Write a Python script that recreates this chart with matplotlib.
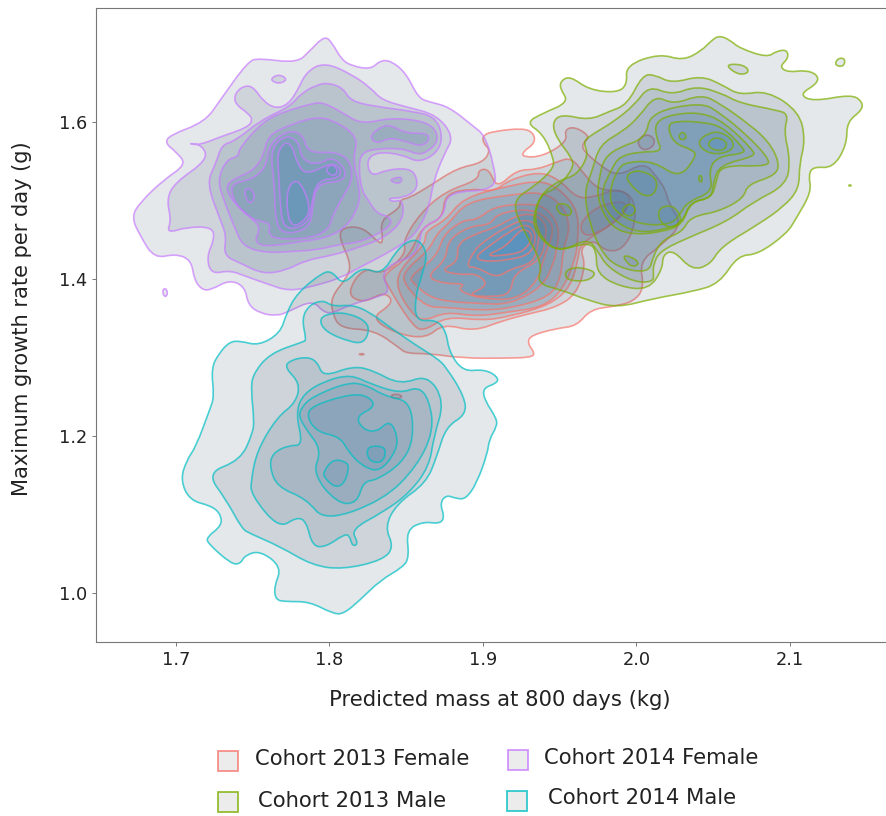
# density contours for the four cohorts

import matplotlib
matplotlib.use("Agg")
import matplotlib.pyplot as plt
from matplotlib.patches import PathPatch, Rectangle
from matplotlib.path import Path

# each cohort: list of levels, each level a list of closed rings (mass, growth)
female_2014 = [
    [
        [(1.797,1.710),(1.802,1.700),(1.808,1.679),(1.815,1.671),(1.827,1.667),(1.833,1.678),(1.840,1.678),(1.850,1.662),(1.858,1.630),(1.866,1.625),(1.878,1.619),(1.894,1.594),(1.901,1.583),(1.907,1.547),(1.909,1.513),(1.876,1.511),(1.875,1.479),(1.860,1.466),(1.859,1.445),(1.854,1.428),(1.841,1.420),(1.834,1.405),(1.839,1.386),(1.835,1.379),(1.813,1.367),(1.802,1.356),(1.796,1.358),(1.789,1.373),(1.773,1.358),(1.766,1.353),(1.755,1.356),(1.747,1.367),(1.745,1.390),(1.735,1.399),(1.723,1.386),(1.717,1.386),(1.712,1.399),(1.710,1.424),(1.700,1.432),(1.686,1.426),(1.677,1.454),(1.671,1.479),(1.677,1.498),(1.692,1.526),(1.707,1.546),(1.700,1.562),(1.693,1.573),(1.696,1.583),(1.719,1.600),(1.729,1.628),(1.747,1.677),(1.754,1.681),(1.779,1.675),(1.787,1.690)],
        [(1.691,1.384),(1.693,1.389),(1.695,1.382),(1.693,1.376)],
    ],
    [
        [(1.797,1.676),(1.815,1.660),(1.827,1.643),(1.834,1.628),(1.850,1.619),(1.870,1.609),(1.881,1.581),(1.875,1.560),(1.868,1.526),(1.865,1.492),(1.859,1.466),(1.852,1.450),(1.837,1.432),(1.821,1.416),(1.807,1.401),(1.792,1.392),(1.774,1.384),(1.759,1.394),(1.746,1.403),(1.735,1.411),(1.723,1.406),(1.720,1.428),(1.725,1.450),(1.724,1.466),(1.707,1.466),(1.694,1.458),(1.697,1.475),(1.694,1.501),(1.699,1.522),(1.721,1.552),(1.717,1.571),(1.707,1.573),(1.715,1.570),(1.729,1.581),(1.747,1.593),(1.750,1.603),(1.747,1.611),(1.739,1.622),(1.738,1.634),(1.743,1.645),(1.750,1.646),(1.757,1.626),(1.765,1.617),(1.773,1.622),(1.779,1.639),(1.785,1.664)],
        [(1.761,1.654),(1.767,1.661),(1.773,1.654),(1.767,1.648)],
    ],
    [
        [(1.799,1.650),(1.809,1.643),(1.814,1.626),(1.832,1.619),(1.852,1.614),(1.869,1.607),(1.874,1.581),(1.870,1.560),(1.858,1.548),(1.848,1.558),(1.832,1.562),(1.824,1.552),(1.827,1.530),(1.837,1.539),(1.852,1.541),(1.857,1.530),(1.857,1.513),(1.848,1.503),(1.838,1.503),(1.841,1.498),(1.848,1.501),(1.848,1.475),(1.837,1.454),(1.821,1.441),(1.802,1.430),(1.785,1.424),(1.772,1.411),(1.757,1.406),(1.742,1.420),(1.731,1.430),(1.733,1.454),(1.729,1.475),(1.720,1.522),(1.726,1.547),(1.730,1.571),(1.738,1.575),(1.756,1.603),(1.774,1.619),(1.782,1.637),(1.792,1.647)],
    ],
    [
        [(1.788,1.623),(1.796,1.625),(1.809,1.611),(1.821,1.597),(1.839,1.605),(1.859,1.602),(1.869,1.592),(1.871,1.575),(1.864,1.562),(1.858,1.558),(1.848,1.566),(1.832,1.566),(1.821,1.561),(1.819,1.543),(1.821,1.513),(1.825,1.501),(1.831,1.483),(1.840,1.479),(1.840,1.466),(1.821,1.447),(1.807,1.444),(1.792,1.437),(1.776,1.435),(1.759,1.433),(1.744,1.441),(1.739,1.462),(1.732,1.496),(1.727,1.526),(1.733,1.552),(1.741,1.556),(1.741,1.566),(1.758,1.603),(1.774,1.615)],
        [(1.838,1.526),(1.848,1.531),(1.846,1.520)],
    ],
    [
        [(1.790,1.606),(1.802,1.603),(1.819,1.581),(1.815,1.552),(1.820,1.513),(1.819,1.492),(1.811,1.466),(1.798,1.452),(1.776,1.446),(1.759,1.441),(1.751,1.447),(1.755,1.464),(1.751,1.475),(1.738,1.496),(1.732,1.517),(1.738,1.528),(1.750,1.537),(1.757,1.556),(1.760,1.583),(1.774,1.596)],
        [(1.826,1.581),(1.832,1.592),(1.839,1.597),(1.850,1.585),(1.864,1.586),(1.865,1.575),(1.859,1.569),(1.850,1.575),(1.839,1.580),(1.831,1.572)],
    ],
    [
        [(1.774,1.590),(1.783,1.583),(1.786,1.560),(1.805,1.562),(1.814,1.549),(1.815,1.526),(1.809,1.505),(1.802,1.481),(1.800,1.464),(1.789,1.452),(1.766,1.450),(1.760,1.458),(1.762,1.471),(1.750,1.475),(1.740,1.492),(1.736,1.509),(1.737,1.522),(1.750,1.527),(1.759,1.543),(1.761,1.573)],
    ],
    [
        [(1.764,1.571),(1.772,1.583),(1.780,1.575),(1.782,1.552),(1.792,1.545),(1.802,1.556),(1.811,1.539),(1.809,1.524),(1.792,1.522),(1.789,1.492),(1.788,1.471),(1.781,1.460),(1.770,1.458),(1.765,1.471),(1.764,1.526),(1.762,1.552)],
        [(1.744,1.511),(1.748,1.517),(1.752,1.505),(1.748,1.494)],
    ],
    [
        [(1.766,1.560),(1.771,1.575),(1.776,1.569),(1.779,1.547),(1.785,1.532),(1.802,1.549),(1.808,1.539),(1.806,1.528),(1.792,1.526),(1.788,1.492),(1.787,1.475),(1.779,1.464),(1.770,1.466),(1.768,1.492),(1.767,1.534)],
    ],
    [
        [(1.772,1.513),(1.778,1.528),(1.784,1.513),(1.787,1.492),(1.786,1.479),(1.778,1.466),(1.773,1.475)],
        [(1.797,1.539),(1.802,1.547),(1.806,1.537),(1.802,1.530)],
    ],
]

male_2014 = [
    [
        [(1.768,1.331),(1.772,1.356),(1.779,1.382),(1.796,1.409),(1.802,1.409),(1.809,1.392),(1.821,1.416),(1.834,1.405),(1.844,1.437),(1.852,1.449),(1.859,1.449),(1.864,1.431),(1.860,1.403),(1.856,1.378),(1.856,1.346),(1.870,1.348),(1.876,1.333),(1.878,1.307),(1.887,1.282),(1.901,1.285),(1.910,1.275),(1.909,1.267),(1.900,1.261),(1.901,1.246),(1.909,1.222),(1.909,1.212),(1.904,1.195),(1.903,1.178),(1.896,1.140),(1.889,1.120),(1.883,1.120),(1.876,1.125),(1.872,1.114),(1.875,1.097),(1.872,1.088),(1.861,1.091),(1.850,1.080),(1.852,1.046),(1.848,1.033),(1.833,1.016),(1.820,0.991),(1.809,0.973),(1.802,0.974),(1.787,0.989),(1.772,0.989),(1.765,0.991),(1.764,1.008),(1.769,1.033),(1.755,1.054),(1.745,1.048),(1.742,1.037),(1.736,1.037),(1.721,1.063),(1.720,1.071),(1.730,1.086),(1.729,1.101),(1.723,1.111),(1.709,1.118),(1.703,1.144),(1.707,1.169),(1.713,1.186),(1.722,1.233),(1.725,1.250),(1.723,1.286),(1.728,1.305),(1.735,1.320),(1.742,1.321),(1.754,1.315)],
    ],
    [
        [(1.785,1.322),(1.782,1.350),(1.787,1.367),(1.796,1.373),(1.802,1.365),(1.815,1.367),(1.826,1.358),(1.839,1.339),(1.856,1.316),(1.870,1.299),(1.876,1.288),(1.888,1.250),(1.889,1.227),(1.876,1.212),(1.870,1.174),(1.863,1.140),(1.844,1.114),(1.836,1.084),(1.842,1.059),(1.835,1.042),(1.809,1.030),(1.789,1.035),(1.768,1.059),(1.748,1.076),(1.743,1.082),(1.733,1.118),(1.720,1.153),(1.742,1.169),(1.750,1.203),(1.751,1.220),(1.749,1.258),(1.750,1.278),(1.761,1.305),(1.783,1.320)],
    ],
    [
        [(1.771,1.287),(1.774,1.296),(1.785,1.301),(1.792,1.295),(1.796,1.275),(1.815,1.289),(1.828,1.284),(1.846,1.265),(1.864,1.278),(1.875,1.244),(1.868,1.199),(1.865,1.161),(1.852,1.127),(1.835,1.103),(1.814,1.081),(1.819,1.063),(1.815,1.059),(1.813,1.074),(1.809,1.074),(1.798,1.059),(1.789,1.059),(1.785,1.091),(1.779,1.097),(1.767,1.082),(1.749,1.125),(1.749,1.144),(1.753,1.182),(1.766,1.224),(1.778,1.242),(1.781,1.267)],
        [(1.793,1.350),(1.802,1.357),(1.813,1.356),(1.824,1.346),(1.826,1.333),(1.822,1.318),(1.813,1.320),(1.797,1.333)],
    ],
    [
        [(1.783,1.188),(1.773,1.188),(1.763,1.178),(1.761,1.161),(1.766,1.135),(1.785,1.120),(1.797,1.091),(1.835,1.118),(1.857,1.161),(1.868,1.207),(1.865,1.246),(1.858,1.263),(1.846,1.254),(1.826,1.267),(1.814,1.278),(1.798,1.271),(1.783,1.254),(1.778,1.229)],
    ],
    [
        [(1.782,1.237),(1.789,1.250),(1.810,1.267),(1.822,1.267),(1.837,1.250),(1.853,1.244),(1.855,1.195),(1.847,1.165),(1.831,1.144),(1.822,1.142),(1.818,1.114),(1.805,1.114),(1.789,1.152),(1.795,1.182),(1.785,1.208),(1.780,1.225)],
    ],
    [
        [(1.785,1.225),(1.789,1.239),(1.815,1.254),(1.826,1.250),(1.830,1.237),(1.817,1.225),(1.822,1.208),(1.831,1.205),(1.839,1.220),(1.844,1.203),(1.844,1.182),(1.833,1.154),(1.822,1.161),(1.813,1.178),(1.807,1.199),(1.792,1.205)],
        [(1.796,1.154),(1.802,1.170),(1.810,1.168),(1.813,1.161),(1.810,1.140),(1.804,1.134),(1.797,1.146)],
    ],
    [
        [(1.824,1.178),(1.826,1.187),(1.835,1.187),(1.837,1.178),(1.834,1.166),(1.827,1.167)],
    ],
]

female_2013 = [
    [
        [(1.900,1.583),(1.907,1.588),(1.926,1.592),(1.933,1.586),(1.934,1.573),(1.926,1.562),(1.926,1.555),(1.939,1.556),(1.955,1.575),(1.953,1.590),(1.960,1.594),(1.970,1.581),(1.965,1.573),(1.965,1.564),(1.976,1.545),(1.988,1.530),(2.005,1.549),(2.014,1.528),(2.019,1.513),(2.021,1.496),(2.030,1.469),(2.015,1.441),(2.002,1.422),(2.005,1.388),(1.998,1.371),(1.985,1.365),(1.970,1.361),(1.961,1.340),(1.948,1.337),(1.931,1.328),(1.929,1.318),(1.934,1.305),(1.931,1.300),(1.915,1.299),(1.887,1.299),(1.865,1.305),(1.850,1.305),(1.845,1.313),(1.829,1.335),(1.807,1.337),(1.802,1.356),(1.801,1.377),(1.812,1.403),(1.814,1.420),(1.806,1.454),(1.809,1.466),(1.822,1.466),(1.833,1.444),(1.835,1.449),(1.833,1.475),(1.846,1.490),(1.846,1.501),(1.852,1.503),(1.865,1.518),(1.883,1.541),(1.900,1.548),(1.905,1.564),(1.900,1.573)],
        [(1.839,1.251),(1.844,1.254),(1.848,1.250),(1.844,1.247)],
        [(1.819,1.304),(1.821,1.305),(1.823,1.304),(1.821,1.303)],
    ],
    [
        [(1.811,1.381),(1.822,1.415),(1.835,1.405),(1.850,1.432),(1.848,1.449),(1.859,1.483),(1.875,1.511),(1.897,1.526),(1.897,1.539),(1.904,1.540),(1.909,1.515),(1.922,1.539),(1.935,1.539),(1.948,1.549),(1.958,1.555),(1.967,1.530),(1.976,1.513),(1.991,1.513),(1.999,1.500),(1.999,1.466),(1.991,1.437),(1.980,1.435),(1.972,1.450),(1.963,1.439),(1.967,1.418),(1.961,1.381),(1.948,1.364),(1.931,1.356),(1.913,1.347),(1.894,1.333),(1.874,1.343),(1.863,1.324),(1.844,1.330),(1.827,1.350),(1.840,1.367),(1.840,1.377),(1.834,1.382),(1.822,1.369)],
        [(2.000,1.575),(2.006,1.585),(2.012,1.579),(2.011,1.568),(2.004,1.563)],
    ],
    [
        [(1.835,1.405),(1.852,1.428),(1.860,1.466),(1.874,1.477),(1.875,1.509),(1.894,1.515),(1.907,1.511),(1.917,1.526),(1.937,1.537),(1.950,1.526),(1.961,1.503),(1.972,1.504),(1.987,1.515),(1.995,1.507),(1.996,1.496),(1.986,1.471),(1.963,1.445),(1.962,1.424),(1.957,1.390),(1.944,1.367),(1.917,1.352),(1.900,1.347),(1.876,1.352),(1.863,1.335),(1.855,1.337),(1.837,1.394)],
    ],
    [
        [(1.845,1.411),(1.863,1.445),(1.862,1.460),(1.876,1.475),(1.887,1.503),(1.915,1.518),(1.939,1.526),(1.952,1.511),(1.962,1.486),(1.962,1.450),(1.960,1.424),(1.952,1.386),(1.939,1.364),(1.917,1.358),(1.896,1.352),(1.876,1.358),(1.863,1.347),(1.855,1.352),(1.844,1.386)],
        [(1.963,1.471),(1.974,1.492),(1.991,1.500),(1.995,1.490),(1.985,1.471),(1.972,1.456),(1.965,1.456)],
    ],
    [
        [(1.848,1.409),(1.865,1.437),(1.870,1.458),(1.878,1.471),(1.889,1.498),(1.917,1.507),(1.939,1.511),(1.952,1.494),(1.957,1.466),(1.952,1.437),(1.951,1.403),(1.944,1.377),(1.917,1.362),(1.896,1.360),(1.876,1.364),(1.863,1.364),(1.849,1.392)],
    ],
    [
        [(1.852,1.403),(1.870,1.428),(1.874,1.456),(1.887,1.475),(1.896,1.475),(1.907,1.492),(1.928,1.496),(1.941,1.492),(1.950,1.466),(1.948,1.437),(1.946,1.420),(1.939,1.390),(1.917,1.367),(1.896,1.369),(1.878,1.371),(1.865,1.377),(1.855,1.394)],
    ],
    [
        [(1.863,1.403),(1.876,1.424),(1.877,1.449),(1.891,1.467),(1.905,1.469),(1.909,1.483),(1.931,1.490),(1.944,1.475),(1.946,1.458),(1.939,1.424),(1.936,1.398),(1.922,1.373),(1.898,1.375),(1.883,1.386),(1.889,1.394),(1.874,1.394)],
    ],
    [
        [(1.872,1.411),(1.884,1.422),(1.883,1.445),(1.896,1.458),(1.909,1.466),(1.922,1.481),(1.933,1.483),(1.941,1.471),(1.941,1.454),(1.938,1.424),(1.920,1.407),(1.918,1.381),(1.907,1.377),(1.889,1.379),(1.904,1.392),(1.896,1.407),(1.885,1.405)],
    ],
    [
        [(1.889,1.415),(1.894,1.435),(1.900,1.447),(1.915,1.466),(1.928,1.477),(1.937,1.466),(1.936,1.445),(1.933,1.420),(1.918,1.413),(1.909,1.401),(1.896,1.415)],
    ],
    [
        [(1.895,1.428),(1.902,1.439),(1.917,1.460),(1.928,1.471),(1.935,1.458),(1.932,1.432),(1.917,1.424),(1.900,1.422)],
    ],
    [
        [(1.901,1.429),(1.915,1.441),(1.923,1.460),(1.928,1.464),(1.933,1.454),(1.927,1.435),(1.915,1.430)],
    ],
]

male_2013 = [
    [
        [(1.928,1.599),(1.939,1.611),(1.956,1.625),(1.950,1.643),(1.951,1.653),(1.957,1.658),(1.969,1.641),(1.987,1.637),(1.994,1.647),(1.993,1.672),(2.015,1.687),(2.030,1.678),(2.042,1.690),(2.049,1.704),(2.054,1.710),(2.061,1.704),(2.067,1.694),(2.085,1.682),(2.091,1.690),(2.098,1.692),(2.099,1.681),(2.093,1.670),(2.099,1.663),(2.110,1.666),(2.118,1.660),(2.118,1.649),(2.106,1.635),(2.115,1.626),(2.140,1.635),(2.147,1.626),(2.147,1.615),(2.137,1.600),(2.137,1.571),(2.128,1.541),(2.115,1.543),(2.112,1.532),(2.114,1.511),(2.104,1.477),(2.098,1.458),(2.079,1.431),(2.066,1.430),(2.054,1.394),(2.037,1.384),(2.011,1.375),(1.987,1.363),(1.968,1.373),(1.951,1.386),(1.935,1.394),(1.939,1.420),(1.925,1.466),(1.919,1.500),(1.935,1.520),(1.946,1.541),(1.946,1.554),(1.939,1.585)],
        [(2.139,1.520),(2.140,1.519),(2.139,1.518),(2.138,1.519)],
    ],
    [
        [(1.945,1.599),(1.951,1.610),(1.969,1.602),(1.982,1.613),(1.994,1.622),(2.004,1.660),(2.012,1.660),(2.023,1.649),(2.042,1.659),(2.056,1.647),(2.067,1.634),(2.085,1.640),(2.106,1.613),(2.110,1.577),(2.106,1.545),(2.106,1.515),(2.096,1.492),(2.079,1.469),(2.055,1.441),(2.048,1.418),(2.036,1.411),(2.024,1.437),(2.017,1.430),(2.017,1.413),(2.008,1.386),(1.989,1.390),(1.974,1.407),(1.974,1.435),(1.969,1.447),(1.948,1.435),(1.937,1.452),(1.932,1.473),(1.937,1.507),(1.948,1.515),(1.959,1.541),(1.958,1.554),(1.948,1.579)],
        [(2.129,1.672),(2.131,1.681),(2.136,1.681),(2.135,1.670)],
        [(2.058,1.672),(2.065,1.674),(2.072,1.670),(2.073,1.662),(2.066,1.660)],
        [(1.953,1.409),(1.959,1.415),(1.968,1.413),(1.974,1.407),(1.968,1.397),(1.955,1.398)],
    ],
    [
        [(1.972,1.585),(1.985,1.600),(1.999,1.622),(2.008,1.646),(2.023,1.634),(2.039,1.646),(2.056,1.636),(2.067,1.624),(2.091,1.615),(2.099,1.610),(2.096,1.588),(2.100,1.554),(2.098,1.520),(2.076,1.498),(2.059,1.473),(2.033,1.452),(2.015,1.435),(2.011,1.418),(2.011,1.407),(2.011,1.396),(1.998,1.396),(1.981,1.415),(1.975,1.435),(1.968,1.452),(1.951,1.434),(1.940,1.447),(1.933,1.473),(1.937,1.507),(1.950,1.526),(1.961,1.532),(1.969,1.558),(1.965,1.575)],
    ],
    [
        [(1.976,1.571),(1.991,1.588),(2.001,1.605),(2.012,1.634),(2.024,1.622),(2.042,1.635),(2.054,1.624),(2.074,1.596),(2.086,1.575),(2.093,1.549),(2.091,1.532),(2.072,1.520),(2.070,1.503),(2.054,1.486),(2.035,1.479),(2.030,1.460),(2.017,1.450),(2.011,1.430),(2.008,1.407),(1.987,1.415),(1.977,1.435),(1.969,1.473),(1.966,1.511),(1.971,1.537)],
        [(1.991,1.430),(1.997,1.428),(2.002,1.420),(1.998,1.415),(1.994,1.420)],
    ],
    [
        [(1.979,1.554),(1.989,1.568),(2.006,1.579),(2.009,1.612),(2.042,1.625),(2.054,1.612),(2.072,1.583),(2.086,1.554),(2.086,1.543),(2.055,1.545),(2.052,1.524),(2.049,1.503),(2.035,1.498),(2.030,1.469),(2.017,1.460),(1.998,1.456),(1.983,1.466),(1.974,1.503),(1.976,1.532)],
        [(1.947,1.492),(1.951,1.497),(1.957,1.492),(1.958,1.481),(1.951,1.481)],
    ],
    [
        [(1.984,1.541),(1.989,1.556),(2.002,1.562),(2.017,1.562),(2.013,1.579),(2.012,1.600),(2.024,1.610),(2.042,1.612),(2.057,1.600),(2.076,1.564),(2.077,1.556),(2.054,1.545),(2.050,1.522),(2.049,1.503),(2.035,1.498),(2.030,1.473),(2.021,1.464),(2.000,1.458),(1.983,1.477),(1.976,1.507)],
    ],
    [
        [(1.988,1.541),(1.994,1.549),(2.011,1.550),(2.028,1.528),(2.039,1.556),(2.037,1.564),(2.024,1.573),(2.020,1.596),(2.026,1.601),(2.042,1.600),(2.056,1.594),(2.069,1.568),(2.071,1.560),(2.053,1.556),(2.047,1.539),(2.050,1.511),(2.033,1.498),(2.028,1.481),(2.022,1.469),(2.002,1.469),(1.985,1.486),(1.982,1.511)],
    ],
    [
        [(2.040,1.575),(2.046,1.585),(2.054,1.588),(2.063,1.577),(2.063,1.564),(2.052,1.558),(2.043,1.564)],
        [(1.994,1.534),(2.002,1.539),(2.014,1.528),(2.012,1.507),(2.004,1.505),(1.994,1.524)],
        [(2.027,1.581),(2.030,1.588),(2.033,1.581),(2.030,1.576)],
        [(2.040,1.528),(2.042,1.533),(2.043,1.527),(2.042,1.522)],
        [(1.990,1.488),(1.995,1.496),(1.999,1.492),(1.999,1.483),(1.994,1.479)],
        [(2.014,1.488),(2.020,1.494),(2.026,1.490),(2.030,1.473),(2.022,1.464),(2.015,1.473)],
    ],
    [
        [(2.047,1.575),(2.052,1.581),(2.059,1.575),(2.058,1.565),(2.052,1.563),(2.047,1.568)],
    ],
]

cohort_names = ["Cohort 2013 Female", "Cohort 2013 Male", "Cohort 2014 Female", "Cohort 2014 Male"]
cohort_levels = [female_2013, male_2013, female_2014, male_2014]
line_colors = ["#F8766D", "#7CAE00", "#C77CFF", "#00BFC4"]


def level_color(i):
    # grey slate for the low levels, going blue towards the peak
    t = min(i / 9, 1)
    grey = (0.30, 0.36, 0.43)
    blue = (0.18, 0.55, 0.82)
    rgb = [grey[k] + (blue[k] - grey[k]) * t for k in range(3)]
    return (rgb[0], rgb[1], rgb[2], 0.14)


def ring_path(ring):
    # rounded closed outline, ring points act as quadratic control points
    mids = [((ring[k][0] + ring[k - 1][0]) / 2, (ring[k][1] + ring[k - 1][1]) / 2) for k in range(len(ring))]
    verts = [mids[0]]
    codes = [Path.MOVETO]
    for k in range(len(ring)):
        verts += [ring[k], mids[(k + 1) % len(ring)]]
        codes += [Path.CURVE3, Path.CURVE3]
    return Path(verts, codes)


plt.rcParams["font.family"] = "DejaVu Sans"
fig = plt.figure(figsize=(8.87, 8.16), dpi=100)
ax = fig.add_axes([96 / 887, 1 - 642 / 816, 790 / 887, 634 / 816])

for levels, color in zip(cohort_levels, line_colors):
    for i, rings in enumerate(levels):
        for ring in rings:
            path = ring_path(ring)
            ax.add_patch(PathPatch(path, facecolor=level_color(i), edgecolor="none", lw=0))
            ax.add_patch(PathPatch(path, facecolor="none", edgecolor=color, lw=1.2, alpha=0.7))

ax.set_xlim(1.648, 2.1625)
ax.set_ylim(0.9376, 1.745)
ax.set_xticks([1.7, 1.8, 1.9, 2.0, 2.1])
ax.set_yticks([1.0, 1.2, 1.4, 1.6])
ax.tick_params(labelsize=12.8, length=3, width=0.7, color="#777777", labelcolor="#222222")
ax.set_xlabel("Predicted mass at 800 days (kg)", fontsize=15.2, color="#222222", labelpad=15, x=0.511)
ax.set_ylabel("Maximum growth rate per day (g)", fontsize=15.1, color="#222222", labelpad=19, y=0.51)
for side in ["left", "bottom", "top"]:
    ax.spines[side].set_color("#777777")
    ax.spines[side].set_linewidth(0.8)
ax.spines["right"].set_visible(False)

# legend was laid out by hand in the original, entries are slightly off grid
legend_spots = [(218, 761, 255, 759), (218, 802, 258, 801), (508, 760, 544, 758), (507, 801, 548, 798)]
for name, color, (bx, by, tx, ty) in zip(cohort_names, line_colors, legend_spots):
    fig.add_artist(Rectangle((bx / 887, 1 - (by + 10) / 816), 20 / 887, 20 / 816,
                             transform=fig.transFigure, facecolor="#e8e8e8",
                             edgecolor=color, lw=1.3, alpha=0.8))
    fig.text(tx / 887, 1 - ty / 816, name, fontsize=15.2, color="#222222", va="center", ha="left")

fig.savefig("out.png", dpi=100)
